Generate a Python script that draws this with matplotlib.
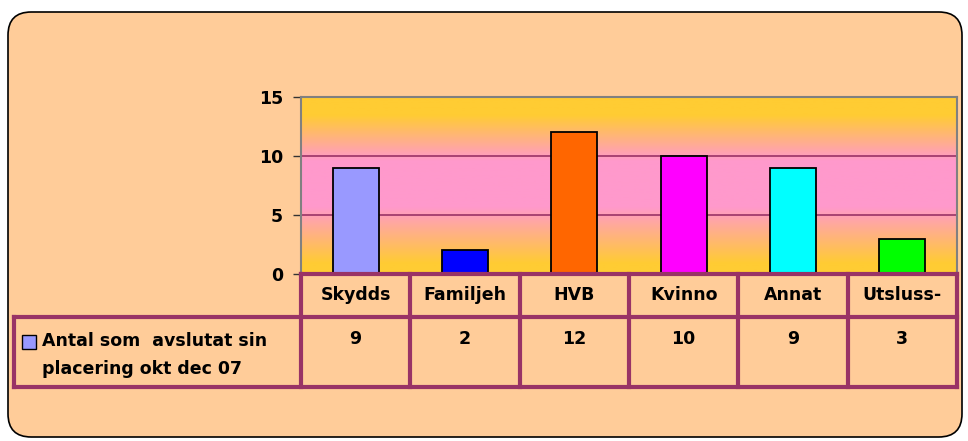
import numpy as np
import matplotlib.pyplot as plt
from matplotlib.patches import FancyBboxPatch, Rectangle
from matplotlib.colors import LinearSegmentedColormap
from matplotlib.transforms import blended_transform_factory

categories = ["Skydds", "Familjeh", "HVB", "Kvinno", "Annat", "Utsluss-"]
values = [9, 2, 12, 10, 9, 3]
bar_colors = ["#9999FF", "#0000FF", "#FF6600", "#FF00FF", "#00FFFF", "#00FF00"]
series_label = "Antal som  avslutat sin\nplacering okt dec 07"
yticks = [0, 5, 10, 15]

plt.rcParams['font.family'] = ['DejaVu Sans']
FS = 12.5
W, H = 968, 441
fig = plt.figure(figsize=(W / 100, H / 100), dpi=100)
fig.patch.set_facecolor("white")

def fx(px):
    return px / W

def fy(py):
    return 1 - py / H

# rounded background panel
bg = FancyBboxPatch((fx(8), fy(437)), fx(954), (437 - 12) / H,
                    boxstyle="round,pad=0,rounding_size=0.024",
                    transform=fig.transFigure, facecolor="#FFCC99",
                    edgecolor="black", linewidth=1.2, mutation_aspect=W / H,
                    zorder=-10)
fig.patches.append(bg)

ax_l, ax_r, ax_t, ax_b = 301, 957, 97, 274
ax = fig.add_axes([fx(ax_l), fy(ax_b), (ax_r - ax_l) / W, (ax_b - ax_t) / H])
ax.set_facecolor("none")

# gradient fill of the plot area
cmap = LinearSegmentedColormap.from_list(
    "grad", [(0, "#FFCC33"), (0.06, "#FFCC33"), (0.38, "#FF99CC"),
             (0.64, "#FF99CC"), (0.9, "#FFCC33"), (1, "#FFCC33")])
grad = np.linspace(0, 1, 256).reshape(-1, 1)
ax.imshow(grad, extent=(-0.5, len(categories) - 0.5, 0, 15), origin="lower",
          aspect="auto", cmap=cmap, zorder=0)

x = np.arange(len(categories))
ax.bar(x, values, width=0.42, color=bar_colors, edgecolor="black",
       linewidth=1.3, zorder=3)

ax.set_xlim(-0.5, len(categories) - 0.5)
ax.set_ylim(0, 15)
ax.set_yticks(yticks)
ax.set_yticklabels([str(t) for t in yticks], fontsize=FS, fontweight="bold")
ax.set_xticks([])
ax.tick_params(axis="y", length=6, width=1, color="#333333", pad=7)
for t in yticks[1:-1]:
    ax.axhline(t, color="#993366", linewidth=1.2, zorder=1)
for s in ["top", "right", "left"]:
    ax.spines[s].set_color("#808080")
    ax.spines[s].set_linewidth(1.5)
ax.spines["bottom"].set_visible(False)

# data table below the axis
line_c = "#993366"
lw = 3
tr = blended_transform_factory(ax.transData, fig.transFigure)
row_top, row_mid, row_bot = 274, 317, 387
leg_left = 14
n = len(categories)
fig.add_artist(plt.Line2D([-0.5, n - 0.5], [fy(row_top)] * 2, transform=tr,
                          color=line_c, lw=lw))
fig.add_artist(plt.Line2D([fx(leg_left), fx(ax_r)], [fy(row_mid)] * 2,
                          transform=fig.transFigure, color=line_c, lw=lw))
fig.add_artist(plt.Line2D([fx(leg_left), fx(ax_r)], [fy(row_bot)] * 2,
                          transform=fig.transFigure, color=line_c, lw=lw))
fig.add_artist(plt.Line2D([fx(leg_left)] * 2, [fy(row_mid), fy(row_bot)],
                          transform=fig.transFigure, color=line_c, lw=lw))
for i in range(n + 1):
    fig.add_artist(plt.Line2D([i - 0.5] * 2, [fy(row_top), fy(row_bot)],
                              transform=tr, color=line_c, lw=lw))
for i, (c, v) in enumerate(zip(categories, values)):
    fig.text(i, fy(295), c, transform=tr, ha="center", va="center",
             fontsize=FS, fontweight="bold")
    fig.text(i, fy(339), str(v), transform=tr, ha="center", va="center",
             fontsize=FS, fontweight="bold")

# legend key in the table
fig.add_artist(Rectangle((fx(22), fy(349)), fx(14), 14 / H,
                         transform=fig.transFigure, facecolor=bar_colors[0],
                         edgecolor="black", linewidth=1, zorder=5))
fig.text(fx(42), fy(355), series_label, transform=fig.transFigure,
         ha="left", va="center", fontsize=FS, fontweight="bold",
         linespacing=1.7)

plt.savefig("out.png", dpi=100)
